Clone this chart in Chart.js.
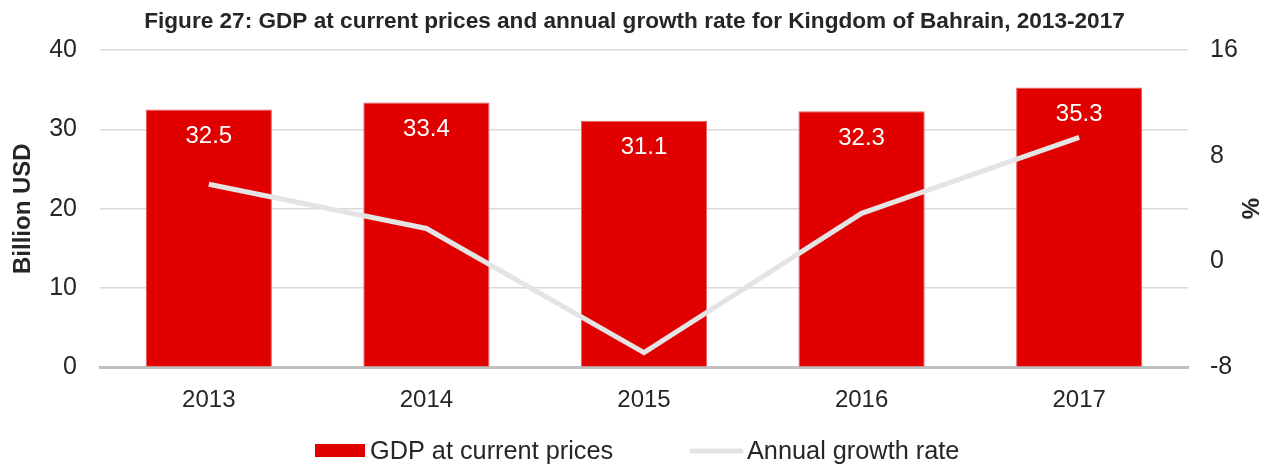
<!DOCTYPE html>
<html>
<head>
<meta charset="utf-8">
<script src="https://cdn.jsdelivr.net/npm/chart.js@4.4.1/dist/chart.umd.min.js"></script>
<style>
html,body{margin:0;padding:0;background:#fff;}
#wrap{width:1269px;height:465px;position:relative;}
</style>
</head>
<body>
<div id="wrap"><canvas id="c" width="1269" height="465"></canvas></div>
<script>
const categories = ['2013','2014','2015','2016','2017'];
const gdpValues = [32.5, 33.4, 31.1, 32.3, 35.3];
const growthValues = [5.85, 2.5, -6.9, 3.65, 9.4];
const leftTicks = [0, 10, 20, 30, 40];
const rightTicks = [-8, 0, 8, 16];
const seriesNames = ['GDP at current prices', 'Annual growth rate'];

const FONT = '"Liberation Sans", Arial, sans-serif';
const RED = '#e10000';
const GREY = '#e4e4e4';
const TEXT = '#262626';

const barLabels = {
  id: 'barLabels',
  afterDatasetsDraw(chart) {
    const ctx = chart.ctx;
    const meta = chart.getDatasetMeta(0);
    ctx.save();
    ctx.fillStyle = '#ffffff';
    ctx.font = '24px ' + FONT;
    ctx.textAlign = 'center';
    ctx.textBaseline = 'middle';
    meta.data.forEach((el, i) => {
      ctx.fillText(gdpValues[i].toFixed(1), el.x, el.y + 27);
    });
    ctx.restore();
  }
};

const customLegend = {
  id: 'customLegend',
  afterDraw(chart) {
    const ctx = chart.ctx;
    ctx.save();
    const y = 451;
    ctx.fillStyle = RED;
    ctx.fillRect(315, y - 7, 50, 13);
    ctx.fillStyle = TEXT;
    ctx.textBaseline = 'middle';
    ctx.textAlign = 'left';
    ctx.font = '25.3px ' + FONT;
    ctx.fillText(seriesNames[0], 370, y + 1);
    ctx.strokeStyle = GREY;
    ctx.lineWidth = 5;
    ctx.lineCap = 'round';
    ctx.beginPath();
    ctx.moveTo(692, y);
    ctx.lineTo(741, y);
    ctx.stroke();
    ctx.fillText(seriesNames[1], 747, y + 1);
    ctx.restore();
  }
};

new Chart(document.getElementById('c'), {
  type: 'bar',
  data: {
    labels: categories,
    datasets: [
      {
        type: 'bar',
        label: seriesNames[0],
        data: gdpValues,
        backgroundColor: RED,
        borderColor: '#e86060',
        borderWidth: 1,
        categoryPercentage: 1.0,
        barPercentage: 0.58,
        yAxisID: 'y',
        order: 2
      },
      {
        type: 'line',
        label: seriesNames[1],
        data: growthValues,
        borderColor: GREY,
        backgroundColor: GREY,
        borderWidth: 5,
        pointRadius: 0,
        tension: 0,
        yAxisID: 'y1',
        order: 1
      }
    ]
  },
  options: {
    responsive: false,
    animation: false,
    layout: { padding: { top: 8, bottom: 31, left: 0, right: 0 } },
    plugins: {
      title: {
        display: true,
        text: 'Figure 27: GDP at current prices and annual growth rate for Kingdom of Bahrain, 2013-2017',
        font: { family: FONT, size: 22.6, weight: 'bold' },
        color: TEXT,
        padding: { top: 0, bottom: 15 }
      },
      legend: { display: false },
      tooltip: { enabled: false }
    },
    scales: {
      x: {
        grid: { display: false, drawTicks: false },
        border: { display: true, color: '#c0c0c0', width: 3 },
        ticks: { font: { family: FONT, size: 24 }, color: TEXT, padding: 19 }
      },
      y: {
        position: 'left',
        min: 0, max: 40,
        afterBuildTicks(axis) { axis.ticks = leftTicks.map(v => ({ value: v })); },
        afterFit(axis) { axis.width = 100; },
        grid: { color: '#dadada', lineWidth: 1.5, drawTicks: false },
        border: { display: false },
        ticks: { font: { family: FONT, size: 25 }, color: TEXT, padding: 23 },
        title: { display: true, text: 'Billion USD', font: { family: FONT, size: 24, weight: 'bold' }, color: TEXT, padding: { top: 9, bottom: 6 } }
      },
      y1: {
        position: 'right',
        min: -8, max: 16,
        afterBuildTicks(axis) { axis.ticks = rightTicks.map(v => ({ value: v })); },
        afterFit(axis) { axis.width = 81; },
        grid: { display: false, drawTicks: false },
        border: { display: false },
        ticks: { font: { family: FONT, size: 25 }, color: TEXT, padding: 22 },
        title: { display: true, text: '%', font: { family: FONT, size: 24, weight: 'bold' }, color: TEXT, padding: { top: 6, bottom: 0 } }
      }
    }
  },
  plugins: [barLabels, customLegend]
});
</script>
</body>
</html>
